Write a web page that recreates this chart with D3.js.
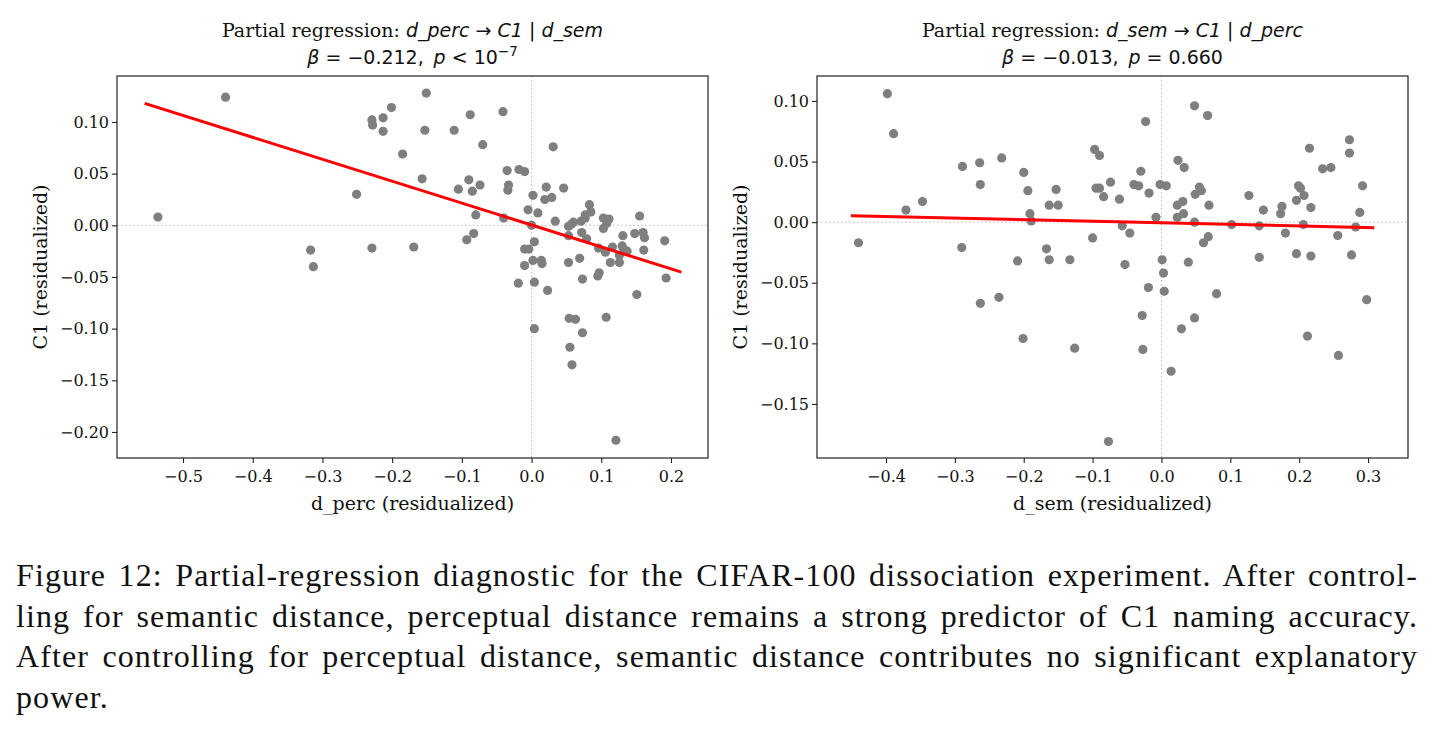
<!DOCTYPE html>
<html>
<head>
<meta charset="utf-8">
<script src="https://cdn.jsdelivr.net/npm/d3@7"></script>
<style>
body { margin: 0; background: #fff; }
svg { display: block; }
</style>
</head>
<body>
<script>
// left panel: d_perc -> C1 | d_sem
var percX = [-0.536, -0.439, -0.229, -0.228, -0.213, -0.201, -0.213, -0.185, -0.251, -0.317, -0.313, -0.229, -0.169,
  -0.151, -0.088, -0.041, -0.153, -0.111, -0.070, 0.031, -0.157, -0.090, -0.074, -0.105, -0.085,
  -0.035, -0.018, -0.010, -0.033, -0.034, 0.002, 0.021, 0.019, 0.029, 0.046,
  -0.080, -0.040, -0.005, 0.009, 0.000, 0.034, 0.083, 0.085, 0.077, 0.077, 0.071, 0.060, 0.057, 0.053,
  0.103, 0.111, 0.108, 0.103, 0.155, 0.072, 0.053, 0.079, 0.131, 0.148, 0.160, 0.162, 0.191,
  -0.083, -0.093, 0.004, -0.010, -0.004, 0.096, 0.106, 0.116, 0.130, 0.132, 0.137, 0.161, 0.126,
  0.069, 0.002, 0.014, 0.015, 0.053, 0.113, 0.126, -0.010, 0.097, 0.095, -0.019, 0.004, 0.023, 0.073, 0.151, 0.193,
  0.054, 0.063, 0.107, 0.004, 0.073, 0.055, 0.058, 0.121];
var percC1 = [0.008, 0.124, 0.102, 0.097, 0.104, 0.114, 0.091, 0.069, 0.030, -0.024, -0.040, -0.022, -0.021,
  0.128, 0.107, 0.110, 0.092, 0.092, 0.078, 0.076, 0.045, 0.044, 0.039, 0.035, 0.033,
  0.053, 0.054, 0.052, 0.039, 0.034, 0.029, 0.037, 0.025, 0.027, 0.036,
  0.010, 0.007, 0.015, 0.012, 0.000, 0.004, 0.020, 0.013, 0.010, 0.007, 0.004, 0.003, 0.001, -0.001,
  0.007, 0.006, 0.002, -0.003, 0.009, -0.007, -0.010, -0.013, -0.010, -0.008, -0.007, -0.012, -0.015,
  -0.008, -0.014, -0.016, -0.023, -0.023, -0.022, -0.026, -0.021, -0.020, -0.023, -0.025, -0.024, -0.029,
  -0.032, -0.034, -0.034, -0.037, -0.036, -0.036, -0.036, -0.039, -0.046, -0.049, -0.056, -0.055, -0.063, -0.052, -0.067, -0.051,
  -0.090, -0.091, -0.089, -0.100, -0.104, -0.118, -0.135, -0.208];
var percFitX = [-0.555, 0.215];
var percBeta = -0.212, percIntercept = 0.0003;
var percXTicks = [-0.5, -0.4, -0.3, -0.2, -0.1, 0.0, 0.1, 0.2];
var percYTicks = [-0.20, -0.15, -0.10, -0.05, 0.00, 0.05, 0.10];

// right panel: d_sem -> C1 | d_perc
var semX = [-0.398, -0.389, -0.097, -0.090, -0.289, -0.264, -0.232, -0.263, -0.200, -0.194,
  -0.153, -0.163, -0.150, -0.095, -0.090, -0.084, -0.074, -0.371, -0.347, -0.191,
  -0.189, -0.440, -0.290, -0.167, -0.163, -0.209, -0.133, -0.100,
  0.048, 0.067, -0.023, 0.215, 0.273, 0.273, 0.234, 0.246, 0.024, 0.033,
  -0.030, -0.040, -0.033, -0.002, 0.007, -0.061, -0.018, 0.055, 0.058, 0.049,
  0.031, 0.023, 0.032, 0.023, 0.069, -0.008, 0.048, 0.127, 0.148, 0.175,
  0.173, 0.196, 0.199, 0.202, 0.207, 0.217, 0.292, 0.288, 0.102, 0.142,
  0.206, 0.282, -0.057, -0.046, 0.180, 0.256, 0.068, 0.061, -0.053, 0.001,
  0.039, 0.142, 0.196, 0.217, 0.276,
  0.003, -0.019, 0.004, 0.080, 0.298, -0.028, 0.048, 0.029, -0.027, 0.212, 0.257, 0.014, -0.077,
  -0.263, -0.236, -0.201, -0.126];
var semC1 = [0.106, 0.073, 0.060, 0.055, 0.046, 0.049, 0.053, 0.031, 0.041, 0.026,
  0.027, 0.014, 0.014, 0.028, 0.028, 0.021, 0.033, 0.010, 0.017, 0.007,
  0.001, -0.017, -0.021, -0.022, -0.031, -0.032, -0.031, -0.013,
  0.096, 0.088, 0.083, 0.061, 0.068, 0.057, 0.044, 0.045, 0.051, 0.045,
  0.042, 0.031, 0.030, 0.031, 0.030, 0.019, 0.024, 0.029, 0.026, 0.023,
  0.017, 0.014, 0.007, 0.004, 0.014, 0.004, 0.000, 0.022, 0.010, 0.013,
  0.007, 0.018, 0.030, 0.028, 0.022, 0.012, 0.030, 0.008, -0.002, -0.003,
  -0.002, -0.004, -0.003, -0.009, -0.009, -0.011, -0.012, -0.017, -0.035, -0.031,
  -0.033, -0.029, -0.026, -0.028, -0.027,
  -0.042, -0.054, -0.057, -0.059, -0.064, -0.077, -0.079, -0.088, -0.105, -0.094, -0.110, -0.123, -0.181,
  -0.067, -0.062, -0.096, -0.104];
var semFitX = [-0.451, 0.309];
var semBeta = -0.013, semIntercept = -0.0005;
var semXTicks = [-0.4, -0.3, -0.2, -0.1, 0.0, 0.1, 0.2, 0.3];
var semYTicks = [-0.15, -0.10, -0.05, 0.00, 0.05, 0.10];

var captionLines = [
  "Figure 12: Partial-regression diagnostic for the CIFAR-100 dissociation experiment. After control-",
  "ling for semantic distance, perceptual distance remains a strong predictor of C1 naming accuracy.",
  "After controlling for perceptual distance, semantic distance contributes no significant explanatory",
  "power."
];

var svg = d3.select('body').append('svg').attr('width', 1435).attr('height', 729);

var SERIF = '"DejaVu Serif", serif';
var MATH = '"DejaVu Sans", sans-serif';

function drawPanel(p) {
  var x = d3.scaleLinear().domain(p.xDomain).range([p.left, p.right]);
  var y = d3.scaleLinear().domain(p.yDomain).range([p.bottom, p.top]);
  var g = svg.append('g');

  // dotted zero lines
  g.append('line').attr('x1', x(0)).attr('x2', x(0)).attr('y1', p.top).attr('y2', p.bottom)
    .attr('stroke', '#b8b8b8').attr('stroke-width', 1).attr('stroke-dasharray', '1.5,2.5');
  g.append('line').attr('x1', p.left).attr('x2', p.right).attr('y1', y(0)).attr('y2', y(0))
    .attr('stroke', '#b8b8b8').attr('stroke-width', 1).attr('stroke-dasharray', '1.5,2.5');

  g.selectAll('circle').data(p.xs).enter().append('circle')
    .attr('cx', function(d) { return x(d); })
    .attr('cy', function(d, i) { return y(p.ys[i]); })
    .attr('r', 4.6)
    .attr('fill', '#7f7f7f');

  var line = d3.line()
    .x(function(d) { return x(d); })
    .y(function(d) { return y(p.intercept + p.beta * d); });
  g.append('path').datum(p.fitX).attr('d', line)
    .attr('fill', 'none').attr('stroke', '#ff0000').attr('stroke-width', 3);

  // axes
  var xAxis = g.append('g').attr('transform', 'translate(0,' + p.bottom + ')')
    .call(d3.axisBottom(x).tickValues(p.xTicks).tickFormat(d3.format('.1f')).tickSizeOuter(0).tickSize(5));
  var yAxis = g.append('g').attr('transform', 'translate(' + p.left + ',0)')
    .call(d3.axisLeft(y).tickValues(p.yTicks).tickFormat(d3.format('.2f')).tickSizeOuter(0).tickSize(5));
  [xAxis, yAxis].forEach(function(a) {
    a.select('.domain').remove();
    a.selectAll('.tick line').attr('stroke', '#222').attr('stroke-width', 1.1);
    a.selectAll('.tick text').attr('font-family', SERIF).attr('font-size', 16).attr('fill', '#111');
  });
  xAxis.selectAll('.tick text').attr('y', 10).attr('dy', '0.85em');
  yAxis.selectAll('.tick text').attr('x', -8);

  g.append('rect').attr('x', p.left).attr('y', p.top)
    .attr('width', p.right - p.left).attr('height', p.bottom - p.top)
    .attr('fill', 'none').attr('stroke', '#222').attr('stroke-width', 1.2);

  g.append('text').attr('x', (p.left + p.right) / 2).attr('y', 510)
    .attr('text-anchor', 'middle').attr('font-family', SERIF).attr('font-size', 19).attr('fill', '#111')
    .text(p.xLabel);
  g.append('text').attr('transform', 'translate(' + (p.left - 70) + ',' + ((p.top + p.bottom) / 2) + ') rotate(-90)')
    .attr('text-anchor', 'middle').attr('font-family', SERIF).attr('font-size', 19).attr('fill', '#111')
    .text('C1 (residualized)');

  // title, two lines, with mathtext-like parts
  var cx = (p.left + p.right) / 2;
  var t1 = g.append('text').attr('x', cx).attr('y', 37).attr('text-anchor', 'middle')
    .attr('font-size', 19).attr('fill', '#111');
  t1.append('tspan').attr('font-family', SERIF).text('Partial regression: ');
  t1.append('tspan').attr('font-family', MATH).attr('font-style', 'italic').text(p.pred);
  t1.append('tspan').attr('font-family', MATH).text(' \u2192 ');
  t1.append('tspan').attr('font-family', MATH).attr('font-style', 'italic').text('C1');
  t1.append('tspan').attr('font-family', MATH).text(' | ');
  t1.append('tspan').attr('font-family', MATH).attr('font-style', 'italic').text(p.ctrl);

  var t2 = g.append('text').attr('x', cx).attr('y', 64).attr('text-anchor', 'middle')
    .attr('font-size', 19).attr('font-family', MATH).attr('fill', '#111');
  t2.append('tspan').attr('font-style', 'italic').text('\u03b2');
  t2.append('tspan').text(' = ' + d3.format('.3f')(p.beta) + ', ');
  t2.append('tspan').attr('font-style', 'italic').text('\u2009p');
  t2.append('tspan').text(' ' + p.pRel + ' ' + p.pText);
  if (p.pSup) {
    t2.append('tspan').attr('font-size', 13.5).attr('dy', -8).text(p.pSup);
  }
}

drawPanel({
  left: 117, right: 708, top: 76, bottom: 458,
  xDomain: [-0.5947, 0.2531], yDomain: [-0.2252, 0.1445],
  xs: percX, ys: percC1, fitX: percFitX, beta: percBeta, intercept: percIntercept,
  xTicks: percXTicks, yTicks: percYTicks,
  xLabel: 'd_perc (residualized)', pred: 'd_perc', ctrl: 'd_sem',
  pRel: '<', pText: '10', pSup: '\u22127'
});

drawPanel({
  left: 817, right: 1408, top: 76, bottom: 458,
  xDomain: [-0.5002, 0.358], yDomain: [-0.1946, 0.1206],
  xs: semX, ys: semC1, fitX: semFitX, beta: semBeta, intercept: semIntercept,
  xTicks: semXTicks, yTicks: semYTicks,
  xLabel: 'd_sem (residualized)', pred: 'd_sem', ctrl: 'd_perc',
  pRel: '=', pText: '0.660', pSup: null
});

// caption, justified by word spacing
var capLeft = 16, capWidth = 1402;
captionLines.forEach(function(s, i) {
  var t = svg.append('text').attr('x', capLeft).attr('y', 586 + i * 40.5)
    .attr('font-family', '"Liberation Serif", serif').attr('font-size', 32)
    .attr('letter-spacing', 1.1).attr('fill', '#111')
    .text(s);
  if (i < captionLines.length - 1) {
    var len = t.node().getComputedTextLength();
    var gaps = s.split(' ').length - 1;
    t.attr('word-spacing', Math.max(0, (capWidth - len) / gaps));
  }
});
</script>
</body>
</html>
